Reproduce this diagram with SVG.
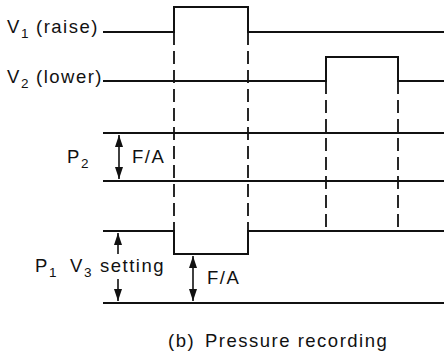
<svg xmlns="http://www.w3.org/2000/svg" width="444" height="355" viewBox="0 0 444 355">
<style>
.t{font-family:"Liberation Sans",Arial,sans-serif;font-size:18.5px;letter-spacing:1.5px;fill:#111}
.s{font-size:13.5px;letter-spacing:0}
.w{fill:none;stroke:#111;stroke-width:2}
.d{fill:none;stroke:#111;stroke-width:1.8;stroke-dasharray:13 6}
.a{fill:none;stroke:#111;stroke-width:1.6}
</style>
<defs>
<marker id="ae" markerUnits="userSpaceOnUse" markerWidth="13" markerHeight="8" refX="12" refY="4" orient="auto-start-reverse" viewBox="0 0 13 8">
<path d="M0,0 L12,4 L0,8 Z" fill="#111"/>
</marker>
</defs>
<g id="traces">
<path id="v1" class="w" d="M103,32 H174 V7 H248 V32 H444"/>
<path id="v2" class="w" d="M103,81 H326 V57 H398 V81 H444"/>
<path id="p2top" class="w" d="M103,133 H444"/>
<path id="p2bot" class="w" d="M103,181 H444"/>
<path id="p1" class="w" d="M103,231 H174 V254 H248 V231 H444"/>
<path id="p1bot" class="w" d="M103,303 H444"/>
</g>
<g id="connectors">
<path class="d" d="M174,32 V231 M248,32 V231 M326,81 V231 M398,81 V231"/>
<path class="a" d="M119,135 V179" marker-start="url(#ae)" marker-end="url(#ae)"/>
<path class="a" d="M118,254 V233" marker-end="url(#ae)"/>
<path class="a" d="M118,279 V301" marker-end="url(#ae)"/>
<path class="a" d="M193,256 V301" marker-start="url(#ae)" marker-end="url(#ae)"/>
</g>
<g id="label-v1"><text class="t" x="7" y="33">V</text><text class="t s" x="21" y="38">1</text><text class="t" x="36" y="33">(raise)</text></g>
<g id="label-v2"><text class="t" x="7" y="83">V</text><text class="t s" x="21" y="88">2</text><text class="t" x="36" y="83">(lower)</text></g>
<g id="label-p2"><text class="t" x="67" y="163">P</text><text class="t s" x="81" y="168">2</text></g>
<g id="label-fa1"><text class="t" x="132" y="163">F/A</text></g>
<g id="label-p1"><text class="t" x="35" y="272">P</text><text class="t s" x="49" y="277">1</text></g>
<g id="label-v3"><text class="t" x="70" y="272">V</text><text class="t s" x="84" y="277">3</text><text class="t" x="100" y="272">setting</text></g>
<g id="label-fa2"><text class="t" x="207" y="284">F/A</text></g>
<g id="caption"><text class="t" x="168" y="347">(b)</text><text class="t" x="205" y="347">Pressure recording</text></g>
</svg>
